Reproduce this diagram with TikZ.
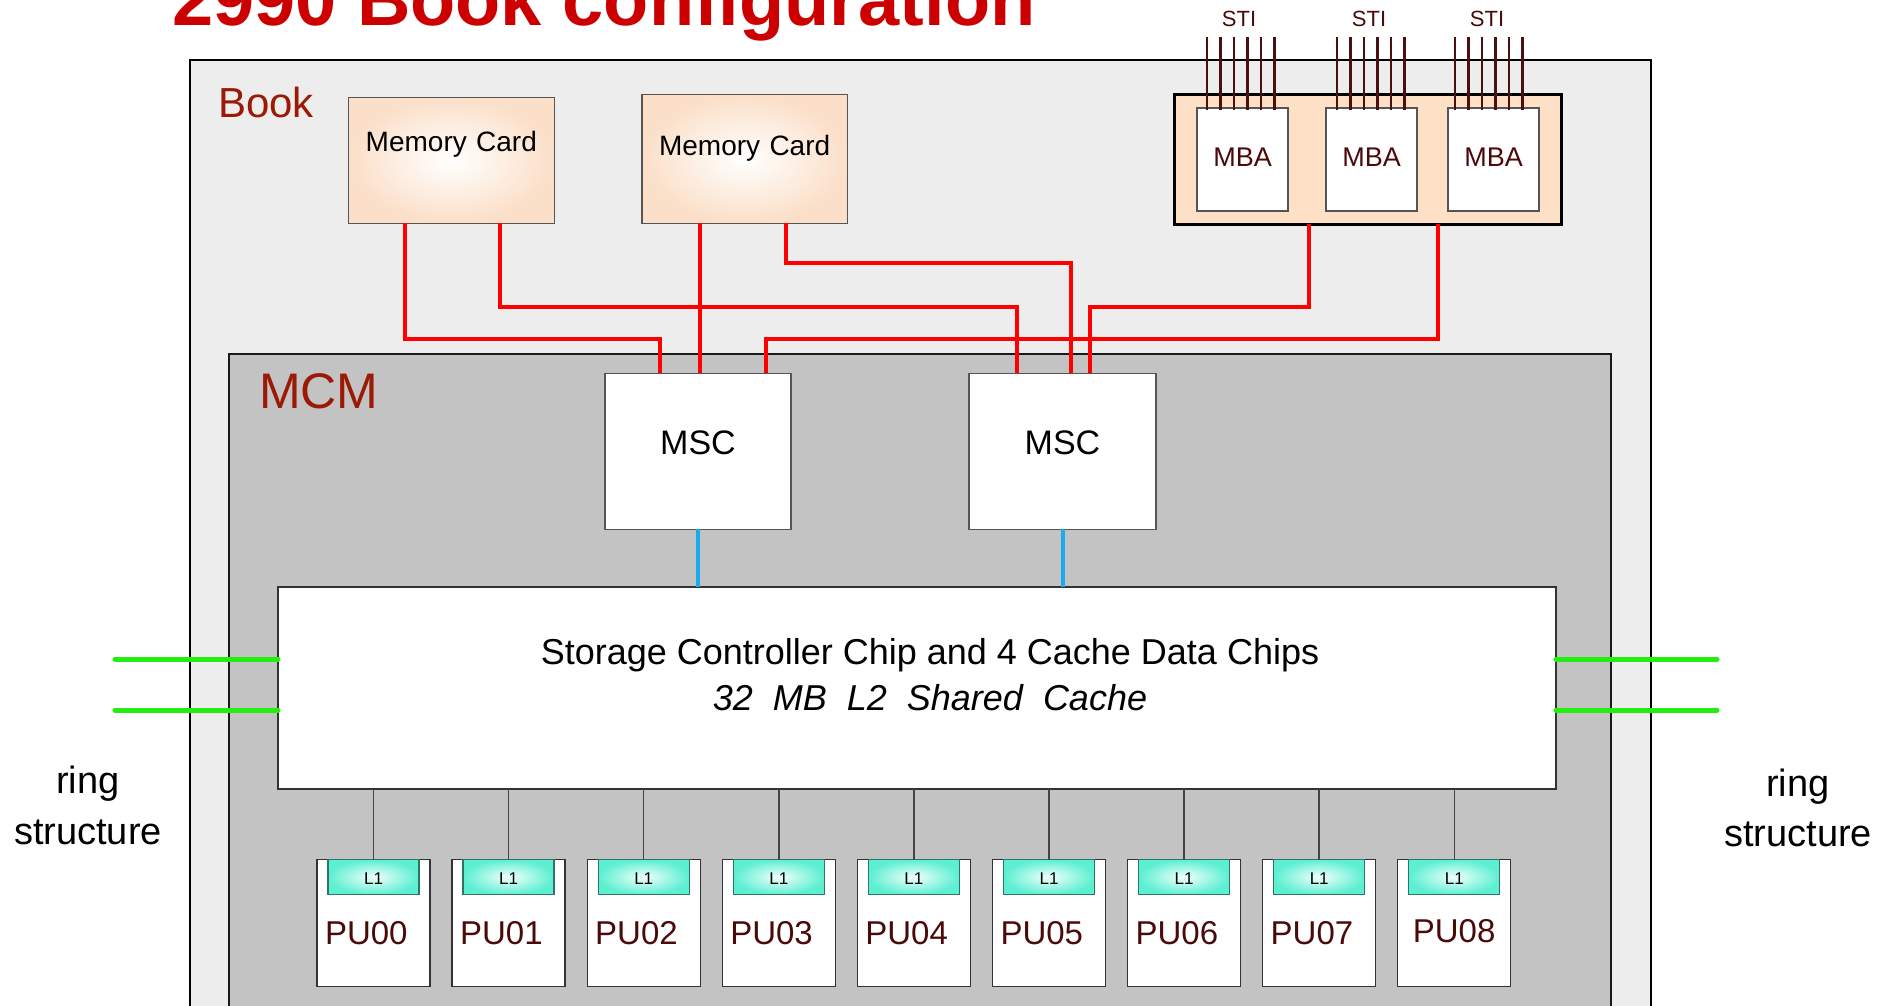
\documentclass[tikz,border=0pt]{standalone}
\usepackage{fontspec}
\setmainfont{Liberation Sans}
\usetikzlibrary{calc}
\definecolor{bookbg}{HTML}{EDEDED}
\definecolor{mcmbg}{HTML}{C3C3C3}
\definecolor{peach}{HTML}{FBDFC8}
\definecolor{mbabg}{HTML}{FEE0C6}
\definecolor{aqua}{HTML}{5CEFD2}
\definecolor{aquacenter}{HTML}{F2FFFC}
\definecolor{aquaborder}{HTML}{2E7566}
\definecolor{titlered}{HTML}{CC0000}
\definecolor{labelred}{HTML}{9B1A05}
\definecolor{maroon}{HTML}{4B0A0A}
\definecolor{wirered}{HTML}{FF0000}
\definecolor{wireblue}{HTML}{1AAAEE}
\definecolor{wiregreen}{HTML}{22EE11}
\definecolor{stiline}{HTML}{4A1010}
\definecolor{cardborder}{HTML}{555555}
\definecolor{puborder}{HTML}{333333}
\definecolor{wiregray}{HTML}{444444}
\newcommand{\myfs}[2]{\fontsize{#1pt}{#2pt}\selectfont}
\tikzset{
  tbox/.style={rectangle, anchor=north west, inner sep=0pt, outer sep=0pt},
  memcard/.style={tbox, draw=cardborder, line width=1.3pt, shading=radial, inner color=white, outer color=peach, font=\myfs{28}{34}, align=center, text=black},
  mbabox/.style={tbox, draw=cardborder, line width=1.2pt, fill=white, font=\myfs{27}{32}, text=maroon, align=center, text width=91pt, text height=58.3pt, text depth=44.7pt},
  mscbox/.style={tbox, draw=cardborder, line width=1.3pt, fill=white, font=\myfs{34}{40}, align=center, text height=81pt, text depth=75pt},
  pubox/.style={tbox, draw=puborder, line width=1.3pt, fill=white, font=\myfs{33}{40}, text=maroon, align=left, inner xsep=8pt, inner ysep=0pt, text width=97pt, text height=85.3pt, text depth=41.7pt},
  l1box/.style={tbox, draw=aquaborder, line width=1.3pt, shading=radial, inner color=aquacenter, outer color=aqua, font=\myfs{17}{20}, align=center, text width=91pt, text height=25pt, text depth=10pt},
  redwire/.style={draw=wirered, line width=4pt},
  bluewire/.style={draw=wireblue, line width=4pt},
  greenwire/.style={draw=wiregreen, line width=5pt, line cap=round},
  stiwire/.style={draw=stiline, line width=2.2pt},
  puwire/.style={draw=wiregray, line width=1.5pt},
  bigtext/.style={inner sep=0pt, outer sep=0pt},
}
\begin{document}
\begin{tikzpicture}[x=1pt,y=-1pt]
\useasboundingbox (0,0) rectangle (1890,1005);
\fill[white] (0,0) rectangle (1890,1005);

% title
\node[bigtext, anchor=base west, font=\myfs{74}{80}\bfseries, text=titlered] (title) at (172,25) {2990 Book configuration};

% book and MCM
\node[tbox, draw=black, line width=2pt, fill=bookbg, minimum width=1461pt, minimum height=1000pt] (book) at (190,60) {};
\node[bigtext, anchor=base west, font=\myfs{42}{48}, text=labelred] (booklbl) at (218,117) {Book};
\node[tbox, draw=black!90, line width=2pt, fill=mcmbg, minimum width=1382pt, minimum height=700pt] (mcm) at (229,354) {};
\node[bigtext, anchor=base west, font=\myfs{50}{56}, text=labelred] (mcmlbl) at (259,408) {MCM};

% memory cards
\node[memcard, text width=206pt, text height=53.7pt, text depth=72.3pt] (mc1) at (348.3,97.3) {Memory Card};
\node[memcard, text width=205.3pt, text height=60.3pt, text depth=68.3pt] (mc2) at (642,94.7) {Memory Card};

% MBA group
\node[tbox, draw=black, line width=3pt, fill=mbabg, minimum width=387pt, minimum height=130pt] (mbag) at (1174.5,94) {};
\node[mbabox] (mba1) at (1197,108) {MBA};
\node[mbabox] (mba2) at (1326,108) {MBA};
\node[mbabox] (mba3) at (1448,108) {MBA};
\foreach \m/\o in {mba1/10, mba2/11, mba3/7} {
  \foreach \k in {0,...,5} {
    \draw[stiwire] ($(\m.north west)+({\o+13.5*\k},2)$) -- ++(0,-73);
  }
}
\node[bigtext, anchor=base, font=\myfs{22}{26}, text=maroon] (sti1) at (1239,26) {STI};
\node[bigtext, anchor=base, font=\myfs{22}{26}, text=maroon] (sti2) at (1369,26) {STI};
\node[bigtext, anchor=base, font=\myfs{22}{26}, text=maroon] (sti3) at (1487,26) {STI};

% MSCs
\node[mscbox, text width=186pt] (msc1) at (605,373.3) {MSC};
\node[mscbox, text width=187pt] (msc2) at (969,373.3) {MSC};

% L2
\node[tbox, draw=puborder, line width=1.5pt, fill=white, minimum width=1278pt, minimum height=202pt] (l2) at (278,587) {};
\node[bigtext, anchor=base, font=\myfs{36}{44}] (l2a) at (930,664) {Storage Controller Chip and 4 Cache Data Chips};
\node[bigtext, anchor=base, font=\myfs{36}{44}\itshape] (l2b) at (930,710) {32\ \ MB\ \ L2\ \ Shared\ \ Cache};

% PUs
\foreach \i in {0,...,7} {
  \node[pubox] (pu\i) at ({317+135.1*\i},859.5) {PU0\i};
  \node[l1box] (l1x\i) at ($(pu\i.north west)+(11,0)$) {L1};
  \draw[puwire] (l1x\i.north) -- (l1x\i.north |- l2.south);
}
\node[pubox, inner xsep=15pt, text width=83pt, text height=83.3pt, text depth=43.7pt] (pu8) at (1397.8,859.5) {PU08};
\node[l1box] (l1x8) at ($(pu8.north west)+(11,0)$) {L1};
\draw[puwire] (l1x8.north) -- (l1x8.north |- l2.south);

% red wires
\coordinate (lvA) at (0,262.7);
\coordinate (lvB) at (0,307.3);
\coordinate (lvC) at (0,339);
\coordinate (m1a) at ($(mc1.south west)+(57,0)$);
\coordinate (m1b) at ($(mc1.south west)+(151.7,0)$);
\coordinate (m2a) at ($(mc2.south west)+(58.3,0)$);
\coordinate (m2b) at ($(mc2.south west)+(144,0)$);
\coordinate (s1a) at ($(msc1.north west)+(55,0)$);
\coordinate (s1b) at ($(msc1.north west)+(95.3,0)$);
\coordinate (s1c) at ($(msc1.north west)+(160.5,0)$);
\coordinate (s2a) at ($(msc2.north west)+(48,0)$);
\coordinate (s2b) at ($(msc2.north west)+(101.5,0)$);
\coordinate (s2c) at ($(msc2.north west)+(121,0)$);
\coordinate (g1) at ($(mbag.south west)+(134,0)$);
\coordinate (g2) at ($(mbag.south west)+(263.5,0)$);
\draw[redwire] (m1a) |- (lvC -| s1a) -- (s1a);
\draw[redwire] (m1b) |- (lvB -| s2a) -- (s2a);
\draw[redwire] (m2a) -- (s1b);
\draw[redwire] (m2b) |- (lvA -| s2b) -- (s2b);
\draw[redwire] (g1) |- (lvB -| s2c) -- (s2c);
\draw[redwire] (g2) |- (lvC -| s1c) -- (s1c);

% blue wires
\draw[bluewire] (msc1.south) -- (msc1.south |- l2.north);
\draw[bluewire] (msc2.south) -- (msc2.south |- l2.north);

% green ring links
\coordinate (gl1) at (115,659);
\coordinate (gl2) at (115,710);
\coordinate (gr1) at (1717,659);
\coordinate (gr2) at (1717,710);
\draw[greenwire] (gl1) -- (gl1 -| l2.west);
\draw[greenwire] (gl2) -- (gl2 -| l2.west);
\draw[greenwire] (gr1 -| l2.east) -- (gr1);
\draw[greenwire] (gr2 -| l2.east) -- (gr2);

% ring structure labels
\node[bigtext, anchor=base, font=\myfs{38}{46}] (ringl1) at (88,793) {ring};
\node[bigtext, anchor=base, font=\myfs{38}{46}] (ringl2) at (88,844) {structure};
\node[bigtext, anchor=base, font=\myfs{38}{46}] (ringr1) at (1798,796) {ring};
\node[bigtext, anchor=base, font=\myfs{38}{46}] (ringr2) at (1798,846) {structure};
\end{tikzpicture}
\end{document}
